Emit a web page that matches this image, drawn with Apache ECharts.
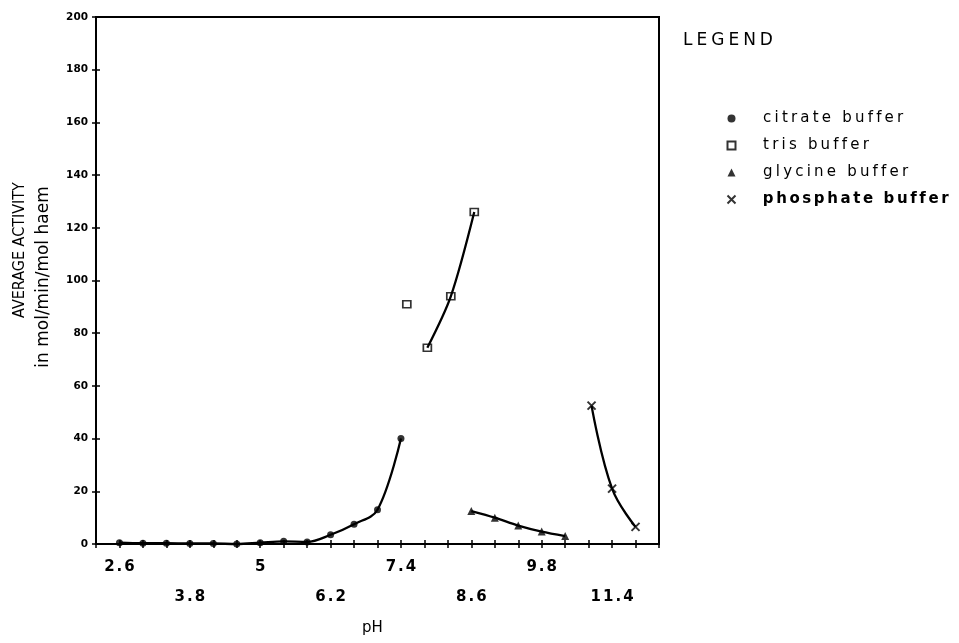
<!DOCTYPE html>
<html>
<head>
<meta charset="utf-8">
<title>Average activity vs pH</title>
<script src="https://cdn.jsdelivr.net/npm/echarts@6/dist/echarts.min.js"></script>
<style>
  html, body { margin: 0; padding: 0; background: #fff; }
  #chart { width: 959px; height: 643px; }
</style>
</head>
<body>
<div id="chart"></div>
<script>
// Measured activity per buffer system (pH, average activity)
const citratePH = [2.6, 3.0, 3.4, 3.8, 4.2, 4.6, 5.0, 5.4, 5.8, 6.2, 6.6, 7.0, 7.4];
const citrateAct = [0.5, 0.3, 0.3, 0.2, 0.2, 0, 0.5, 1, 0.8, 3.5, 7.5, 13, 40];

const trisPH = [7.5, 7.85, 8.25, 8.65];
const trisAct = [91, 74.5, 94, 126];

const glycinePH = [8.6, 9.0, 9.4, 9.8, 10.2];
const glycineAct = [12.5, 10, 7, 4.7, 3];

const phosphatePH = [10.65, 11.0, 11.4];
const phosphateAct = [52.5, 21, 6.5];

// pH tick labels, printed in two staggered rows
const xLabelValues = [2.6, 3.8, 5.0, 6.2, 7.4, 8.6, 9.8, 11.0];
const xLabelTexts = ['2.6', '3.8', '5', '6.2', '7.4', '8.6', '9.8', '11.4'];

const legendNames = ['citrate buffer', 'tris buffer', 'glycine buffer', 'phosphate buffer'];

const pairs = (xs, ys) => xs.map((x, i) => [x, ys[i]]);

const crossSymbol = 'path://M0,0L10,10M10,0L0,10';

const chart = echarts.init(document.getElementById('chart'), null, { renderer: 'canvas' });

const baseFont = 'DejaVu Sans';

// spread characters apart like the plotter lettering
function tracked(str, style) {
  return str.split('').map(ch => '{' + style + '|' + ch + '}').join('');
}

function xLabel(v) {
  for (let i = 0; i < xLabelValues.length; i++) {
    if (Math.abs(v - xLabelValues[i]) < 0.01) {
      const t = tracked(xLabelTexts[i], 'a');
      return i % 2 === 0 ? t + '\n{a| }' : '{a| }\n' + t;
    }
  }
  return '';
}

const option = {
  backgroundColor: '#fff',
  animation: false,
  grid: {
    left: 96, right: 300, top: 17, bottom: 99,
    show: true, borderColor: '#000', borderWidth: 2
  },
  xAxis: [{
    type: 'value', min: 2.2, max: 11.8, interval: 0.4,
    axisLine: { show: true, lineStyle: { color: '#000', width: 2 } },
    axisTick: { show: true, length: 4, lineStyle: { color: '#000', width: 1.5 } },
    splitLine: { show: false },
    axisLabel: {
      show: true, interval: 0, hideOverlap: false, margin: 8,
      formatter: xLabel,
      rich: { a: { fontFamily: baseFont, fontSize: 15, fontWeight: 'bold', color: '#000', lineHeight: 30, padding: [0, 1, 0, 1] } }
    }
  }, {
    type: 'value', min: 2.2, max: 11.8, interval: 0.4, position: 'bottom',
    axisLine: { show: false },
    axisTick: { show: true, inside: true, length: 4, lineStyle: { color: '#000', width: 1.5 } },
    axisLabel: { show: false }, splitLine: { show: false }
  }],
  yAxis: [{
    type: 'value', min: 0, max: 200, interval: 20,
    axisLine: { show: true, lineStyle: { color: '#000', width: 2 } },
    axisTick: { show: true, length: 4, lineStyle: { color: '#000', width: 1.5 } },
    splitLine: { show: false },
    axisLabel: { color: '#000', fontFamily: baseFont, fontWeight: 'bold', fontSize: 10.5, margin: 8 }
  }, {
    type: 'value', min: 0, max: 200, interval: 20, position: 'left',
    axisLine: { show: false },
    axisTick: { show: true, inside: true, length: 4, lineStyle: { color: '#000', width: 1.5 } },
    axisLabel: { show: false }, splitLine: { show: false }
  }],
  legend: {
    orient: 'vertical', left: 720, top: 106, itemGap: 12,
    itemWidth: 8, itemHeight: 8,
    formatter: name => tracked(name, name === legendNames[3] ? 'b' : 'n'),
    textStyle: {
      color: '#000', padding: [0, 0, 0, 21],
      rich: {
        n: { fontFamily: baseFont, fontSize: 15, color: '#000', padding: [0, 1.6, 0, 1.6] },
        b: { fontFamily: baseFont, fontSize: 15, fontWeight: 'bold', color: '#000', padding: [0, 1.3, 0, 1.3] }
      }
    },
    data: legendNames
  },
  graphic: [
    {
      type: 'text', left: 683, top: 32,
      style: {
        text: tracked('LEGEND', 'c'), fill: '#000',
        rich: { c: { fontFamily: baseFont, fontSize: 17, color: '#000', padding: [0, 2, 0, 2] } }
      }
    },
    { type: 'text', left: 362, top: 621, style: { text: 'pH', font: '15px "DejaVu Sans"', fill: '#000' } },
    {
      type: 'text', x: 20, y: 250, rotation: Math.PI / 2,
      style: { text: 'AVERAGE ACTIVITY', font: '16px "Liberation Sans Narrow", "DejaVu Sans Condensed", sans-serif', fill: '#000', align: 'center', verticalAlign: 'middle' }
    },
    {
      type: 'text', x: 44, y: 277, rotation: Math.PI / 2,
      style: { text: 'in mol/min/mol haem', font: '17px "DejaVu Sans"', fill: '#000', align: 'center', verticalAlign: 'middle' }
    }
  ],
  series: [
    // fitted curves
    { name: 'citrate curve', type: 'line', data: pairs(citratePH, citrateAct), smooth: 0.35, showSymbol: false, clip: false,
      lineStyle: { color: '#000', width: 2.3 }, silent: true },
    { name: 'tris curve', type: 'line', data: pairs(trisPH.slice(1), trisAct.slice(1)), smooth: 0.3, showSymbol: false,
      lineStyle: { color: '#000', width: 2.3 }, silent: true },
    { name: 'glycine curve', type: 'line', data: pairs(glycinePH, glycineAct), smooth: 0.3, showSymbol: false,
      lineStyle: { color: '#000', width: 2.3 }, silent: true },
    { name: 'phosphate curve', type: 'line', data: pairs(phosphatePH, phosphateAct), smooth: 0.4, showSymbol: false,
      lineStyle: { color: '#000', width: 2.3 }, silent: true },
    // measured points
    { name: legendNames[0], type: 'scatter', data: pairs(citratePH, citrateAct), symbol: 'circle', symbolSize: 7, clip: false,
      itemStyle: { color: '#000' } },
    { name: legendNames[1], type: 'scatter', data: pairs(trisPH, trisAct), symbol: 'rect', symbolSize: [8, 7],
      itemStyle: { color: '#fff', borderColor: '#000', borderWidth: 1.6 } },
    { name: legendNames[2], type: 'scatter', data: pairs(glycinePH, glycineAct), symbol: 'triangle', symbolSize: 8,
      itemStyle: { color: '#000' } },
    { name: legendNames[3], type: 'scatter', data: pairs(phosphatePH, phosphateAct), symbol: crossSymbol, symbolSize: 8,
      itemStyle: { color: 'none', borderColor: '#000', borderWidth: 2 } }
  ]
};

chart.setOption(option);
</script>
</body>
</html>
